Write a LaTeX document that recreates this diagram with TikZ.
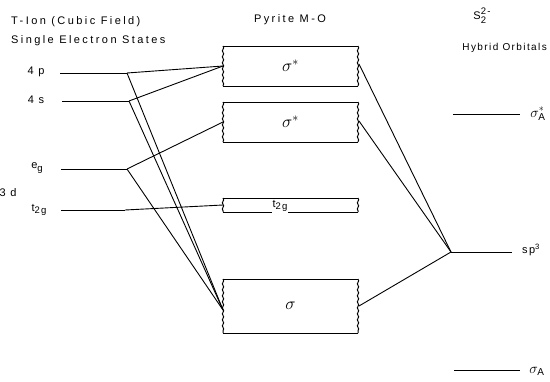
\documentclass[tikz,border=0pt]{standalone}
\usepackage{fontspec}
\setmainfont{Liberation Sans}[LetterSpace=14]
\newfontfamily\wide{Liberation Sans}[LetterSpace=22]
\usetikzlibrary{decorations.pathmorphing}
\tikzset{
  lvl/.style={line width=1pt},
  conn/.style={line width=0.9pt},
  lbl/.style={inner sep=0pt, font=\fontsize{11}{13}\selectfont},
  ttl/.style={inner sep=0pt, font=\wide\fontsize{11}{13}\selectfont},
  mobox/.style={draw=none, inner sep=0pt, outer sep=0pt, minimum width=135pt, font=\LARGE},
  wavy/.style={decorate, decoration={snake, amplitude=0.7pt, segment length=6pt}},
}
\newcommand{\drawmobox}[1]{%
  \draw[lvl] (#1.north west) -- (#1.north east);
  \draw[lvl] (#1.south west) -- (#1.south east);
  \draw[lvl,wavy] (#1.north west) -- (#1.south west);
  \draw[lvl,wavy] (#1.north east) -- (#1.south east);
}
\newcommand{\subsc}[1]{\raisebox{-2.5pt}{\fontsize{9.5}{10}\selectfont #1}}
\begin{document}
\begin{tikzpicture}[x=1pt,y=-1pt]
\useasboundingbox (0,0) rectangle (550,381);

% titles
\node[ttl,anchor=west] (t1) at (11,22) {T-Ion (Cubic Field)};
\node[ttl,anchor=west] (t2) at (11,41) {Single Electron States};
\node[ttl] (pyr) at (290,20) {Pyrite M-O};
\node[lbl] (s22) at (482,16) {S\makebox[0pt][l]{\raisebox{-4pt}{\fontsize{9.5}{10}\selectfont 2}}\raisebox{5pt}{\fontsize{9.5}{10}\selectfont 2-}};
\node[lbl,anchor=east,font=\fontsize{10}{12}\selectfont] (hyb) at (547,48) {Hybrid Orbitals};

% left levels
\coordinate (pL) at (60,73);  \coordinate (pR) at (127,73);
\coordinate (sL) at (62,101); \coordinate (sR) at (129,101);
\coordinate (eL) at (61,169); \coordinate (eR) at (127,169);
\coordinate (tL) at (61,210); \coordinate (tR) at (125,210);
\draw[lvl] (pL) -- (pR);
\draw[lvl] (sL) -- (sR);
\draw[lvl] (eL) -- (eR);
\draw[lvl] (tL) -- (tR);
\node[lbl] (l4p) at (36,72) {4 p};
\node[lbl] (l4s) at (36,100) {4 s};
\node[lbl] (leg) at (37,168) {e\subsc{g}};
\node[lbl] (l3d) at (8,193) {3 d};
\node[lbl] (lt2g) at (39,210) {t\subsc{2g}};

% MO boxes
\node[mobox, minimum height=40pt] (b1) at (290.5,66) {$\sigma^{*}$};
\node[mobox, minimum height=40pt] (b2) at (290.5,122) {$\sigma^{*}$};
\node[mobox, minimum height=14pt] (b3) at (290.5,205) {};
\node[mobox, minimum height=54pt] (b4) at (290.5,306) {$\sigma$};
\drawmobox{b1}
\drawmobox{b2}
\drawmobox{b3}
\drawmobox{b4}
\node[lbl, fill=white, inner sep=1pt] (lt2gb) at (280,206) {t\subsc{2g}};

% right levels
\coordinate (aL) at (453,114); \coordinate (aR) at (520,114);
\coordinate (hL) at (451,252); \coordinate (hR) at (512,252);
\coordinate (cL) at (454,370); \coordinate (cR) at (520,370);
\draw[lvl] (aL) -- (aR);
\draw[lvl] (hL) -- (hR);
\draw[lvl] (cL) -- (cR);
\node[lbl,font=\Large] (lsa) at (538,114) {$\sigma^{*}_{\mathrm{A}}$};
\node[lbl] (lsp) at (531,250) {sp\textsuperscript{3}};
\node[lbl,font=\Large] (lsb) at (537,371) {$\sigma_{\mathrm{A}}$};

% connectors left
\draw[conn] (pR) -- (b1.west);
\draw[conn] (sR) -- (b1.west);
\draw[conn] (eR) -- (b2.west);
\draw[conn] (tR) -- (b3.west);
\draw[conn] (pR) -- ([yshift=-4pt]b4.west);
\draw[conn] (sR) -- ([yshift=-4pt]b4.west);
\draw[conn] (eR) -- ([yshift=-4pt]b4.west);

% connectors right
\draw[conn] ([xshift=1pt,yshift=2pt]b1.east) -- (hL);
\draw[conn] ([xshift=1pt,yshift=1pt]b2.east) -- (hL);
\draw[conn] ([xshift=1pt]b4.east) -- (hL);
\end{tikzpicture}
\end{document}
